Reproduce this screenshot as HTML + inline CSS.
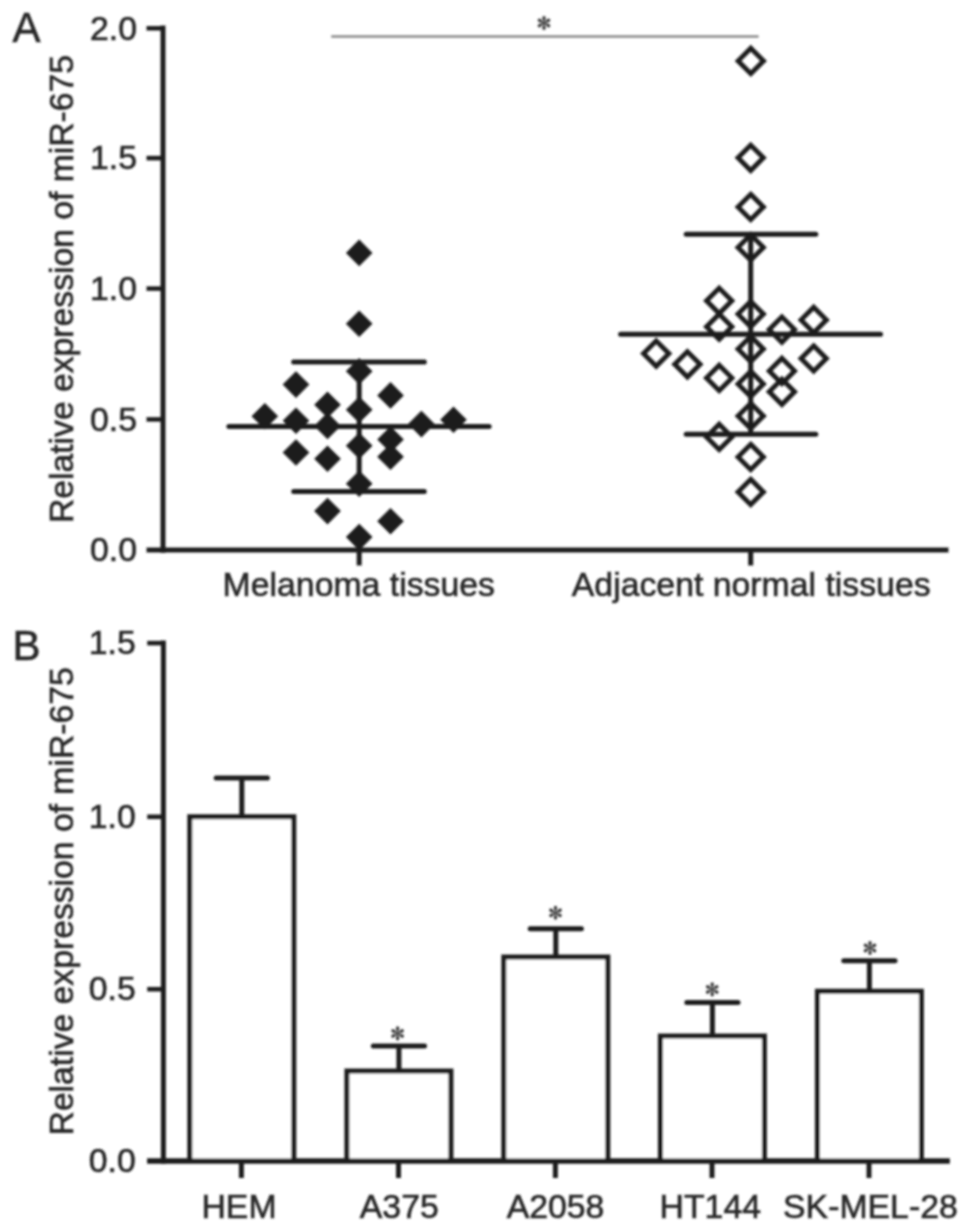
<!DOCTYPE html>
<html><head><meta charset="utf-8"><title>Figure</title>
<style>html,body{margin:0;padding:0;background:#fff;}svg{display:block;}text{font-family:"Liberation Sans",sans-serif;fill:#262626;stroke:#262626;stroke-width:0.6px;}.s{font-family:"Liberation Serif",serif;fill:#3a3a3a;}</style>
</head><body>
<svg width="969" height="1231" viewBox="0 0 969 1231">
<rect x="0" y="0" width="969" height="1231" fill="#ffffff"/>
<defs><filter id="soft" x="0" y="0" width="969" height="1231" filterUnits="userSpaceOnUse"><feGaussianBlur stdDeviation="0.95"/></filter></defs>
<g filter="url(#soft)">
<text x="12.5" y="42.2" font-size="42">A</text>
<line x1="163.0" y1="25.6" x2="163.0" y2="552.7" stroke="#1e1e1e" stroke-width="5.0" stroke-linecap="butt"/>
<line x1="146.5" y1="550.0" x2="948.5" y2="550.0" stroke="#1e1e1e" stroke-width="5.0" stroke-linecap="butt"/>
<line x1="146.5" y1="28.3" x2="163.0" y2="28.3" stroke="#1e1e1e" stroke-width="4.5" stroke-linecap="butt"/>
<line x1="146.5" y1="158.1" x2="163.0" y2="158.1" stroke="#1e1e1e" stroke-width="4.5" stroke-linecap="butt"/>
<line x1="146.5" y1="288.6" x2="163.0" y2="288.6" stroke="#1e1e1e" stroke-width="4.5" stroke-linecap="butt"/>
<line x1="146.5" y1="419.4" x2="163.0" y2="419.4" stroke="#1e1e1e" stroke-width="4.5" stroke-linecap="butt"/>
<text x="137.0" y="39.5" font-size="33.8" text-anchor="end">2.0</text>
<text x="137.0" y="169.3" font-size="33.8" text-anchor="end">1.5</text>
<text x="137.0" y="299.8" font-size="33.8" text-anchor="end">1.0</text>
<text x="137.0" y="430.6" font-size="33.8" text-anchor="end">0.5</text>
<text x="137.0" y="561.2" font-size="33.8" text-anchor="end">0.0</text>
<line x1="359.2" y1="550.0" x2="359.2" y2="565.5" stroke="#1e1e1e" stroke-width="5.0" stroke-linecap="butt"/>
<line x1="750.7" y1="550.0" x2="750.7" y2="565.5" stroke="#1e1e1e" stroke-width="5.0" stroke-linecap="butt"/>
<text x="358.8" y="595.5" font-size="33.8" text-anchor="middle">Melanoma tissues</text>
<text x="751.2" y="595.5" font-size="33.8" text-anchor="middle">Adjacent normal tissues</text>
<text transform="translate(73.2 289.0) rotate(-90)" font-size="33.7" text-anchor="middle">Relative expression of miR-675</text>
<line x1="331.2" y1="36.5" x2="758.6" y2="36.5" stroke="#8a8a8a" stroke-width="2.6" stroke-linecap="butt"/>
<g transform="translate(544.0 23.0) scale(1.00)" fill="#3c3c3c">
<path transform="rotate(0)" d="M0,0.3 C-0.5,-1.8 -1.75,-4.0 -1.75,-5.3 A1.75,1.75 0 0 1 1.75,-5.3 C1.75,-4.0 0.5,-1.8 0,0.3 Z"/>
<path transform="rotate(60)" d="M0,0.3 C-0.5,-1.8 -1.75,-4.0 -1.75,-5.3 A1.75,1.75 0 0 1 1.75,-5.3 C1.75,-4.0 0.5,-1.8 0,0.3 Z"/>
<path transform="rotate(120)" d="M0,0.3 C-0.5,-1.8 -1.75,-4.0 -1.75,-5.3 A1.75,1.75 0 0 1 1.75,-5.3 C1.75,-4.0 0.5,-1.8 0,0.3 Z"/>
<path transform="rotate(180)" d="M0,0.3 C-0.5,-1.8 -1.75,-4.0 -1.75,-5.3 A1.75,1.75 0 0 1 1.75,-5.3 C1.75,-4.0 0.5,-1.8 0,0.3 Z"/>
<path transform="rotate(240)" d="M0,0.3 C-0.5,-1.8 -1.75,-4.0 -1.75,-5.3 A1.75,1.75 0 0 1 1.75,-5.3 C1.75,-4.0 0.5,-1.8 0,0.3 Z"/>
<path transform="rotate(300)" d="M0,0.3 C-0.5,-1.8 -1.75,-4.0 -1.75,-5.3 A1.75,1.75 0 0 1 1.75,-5.3 C1.75,-4.0 0.5,-1.8 0,0.3 Z"/>
<circle r="1.3"/></g>
<polygon points="359.2,239.6 372.5,252.9 359.2,266.2 345.9,252.9" fill="#1e1e1e"/>
<polygon points="359.2,310.4 372.5,323.7 359.2,337.0 345.9,323.7" fill="#1e1e1e"/>
<polygon points="359.2,357.9 372.5,371.2 359.2,384.5 345.9,371.2" fill="#1e1e1e"/>
<polygon points="296.0,371.3 309.3,384.6 296.0,397.9 282.7,384.6" fill="#1e1e1e"/>
<polygon points="390.5,382.1 403.8,395.4 390.5,408.7 377.2,395.4" fill="#1e1e1e"/>
<polygon points="327.5,391.5 340.8,404.8 327.5,418.1 314.2,404.8" fill="#1e1e1e"/>
<polygon points="359.2,396.4 372.5,409.7 359.2,423.0 345.9,409.7" fill="#1e1e1e"/>
<polygon points="264.8,403.0 278.1,416.3 264.8,429.6 251.5,416.3" fill="#1e1e1e"/>
<polygon points="296.0,407.4 309.3,420.7 296.0,434.0 282.7,420.7" fill="#1e1e1e"/>
<polygon points="327.5,412.6 340.8,425.9 327.5,439.2 314.2,425.9" fill="#1e1e1e"/>
<polygon points="421.4,410.8 434.7,424.1 421.4,437.4 408.1,424.1" fill="#1e1e1e"/>
<polygon points="453.5,406.5 466.8,419.8 453.5,433.1 440.2,419.8" fill="#1e1e1e"/>
<polygon points="390.5,426.2 403.8,439.5 390.5,452.8 377.2,439.5" fill="#1e1e1e"/>
<polygon points="359.2,432.5 372.5,445.8 359.2,459.1 345.9,445.8" fill="#1e1e1e"/>
<polygon points="296.0,439.2 309.3,452.5 296.0,465.8 282.7,452.5" fill="#1e1e1e"/>
<polygon points="327.5,445.5 340.8,458.8 327.5,472.1 314.2,458.8" fill="#1e1e1e"/>
<polygon points="390.5,443.5 403.8,456.8 390.5,470.1 377.2,456.8" fill="#1e1e1e"/>
<polygon points="359.2,470.4 372.5,483.7 359.2,497.0 345.9,483.7" fill="#1e1e1e"/>
<polygon points="327.5,497.8 340.8,511.1 327.5,524.4 314.2,511.1" fill="#1e1e1e"/>
<polygon points="390.5,507.9 403.8,521.2 390.5,534.5 377.2,521.2" fill="#1e1e1e"/>
<polygon points="359.2,523.8 372.5,537.1 359.2,550.4 345.9,537.1" fill="#1e1e1e"/>
<line x1="228.9" y1="426.5" x2="489.1" y2="426.5" stroke="#1e1e1e" stroke-width="5.0" stroke-linecap="round"/>
<line x1="293.7" y1="362.0" x2="424.3" y2="362.0" stroke="#1e1e1e" stroke-width="5.0" stroke-linecap="round"/>
<line x1="293.7" y1="491.5" x2="424.3" y2="491.5" stroke="#1e1e1e" stroke-width="5.0" stroke-linecap="round"/>
<line x1="359.2" y1="362.0" x2="359.2" y2="491.5" stroke="#1e1e1e" stroke-width="5.0" stroke-linecap="butt"/>
<polygon points="750.8,48.2 763.5,60.9 750.8,73.6 738.1,60.9" fill="none" stroke="#1e1e1e" stroke-width="4.8" stroke-linejoin="miter"/>
<polygon points="750.7,145.1 763.4,157.8 750.7,170.5 738.0,157.8" fill="none" stroke="#1e1e1e" stroke-width="4.8" stroke-linejoin="miter"/>
<polygon points="750.7,194.3 763.4,207.0 750.7,219.7 738.0,207.0" fill="none" stroke="#1e1e1e" stroke-width="4.8" stroke-linejoin="miter"/>
<polygon points="750.7,234.7 763.4,247.4 750.7,260.1 738.0,247.4" fill="none" stroke="#1e1e1e" stroke-width="4.8" stroke-linejoin="miter"/>
<polygon points="719.2,288.1 731.9,300.8 719.2,313.5 706.5,300.8" fill="none" stroke="#1e1e1e" stroke-width="4.8" stroke-linejoin="miter"/>
<polygon points="750.7,301.4 763.4,314.1 750.7,326.8 738.0,314.1" fill="none" stroke="#1e1e1e" stroke-width="4.8" stroke-linejoin="miter"/>
<polygon points="813.7,307.2 826.4,319.9 813.7,332.6 801.0,319.9" fill="none" stroke="#1e1e1e" stroke-width="4.8" stroke-linejoin="miter"/>
<polygon points="719.2,314.0 731.9,326.7 719.2,339.4 706.5,326.7" fill="none" stroke="#1e1e1e" stroke-width="4.8" stroke-linejoin="miter"/>
<polygon points="781.9,316.9 794.6,329.6 781.9,342.3 769.2,329.6" fill="none" stroke="#1e1e1e" stroke-width="4.8" stroke-linejoin="miter"/>
<polygon points="750.7,336.3 763.4,349.0 750.7,361.7 738.0,349.0" fill="none" stroke="#1e1e1e" stroke-width="4.8" stroke-linejoin="miter"/>
<polygon points="656.2,340.9 668.9,353.6 656.2,366.3 643.5,353.6" fill="none" stroke="#1e1e1e" stroke-width="4.8" stroke-linejoin="miter"/>
<polygon points="813.7,345.8 826.4,358.5 813.7,371.2 801.0,358.5" fill="none" stroke="#1e1e1e" stroke-width="4.8" stroke-linejoin="miter"/>
<polygon points="687.4,351.6 700.1,364.3 687.4,377.0 674.7,364.3" fill="none" stroke="#1e1e1e" stroke-width="4.8" stroke-linejoin="miter"/>
<polygon points="781.9,358.2 794.6,370.9 781.9,383.6 769.2,370.9" fill="none" stroke="#1e1e1e" stroke-width="4.8" stroke-linejoin="miter"/>
<polygon points="719.2,365.2 731.9,377.9 719.2,390.6 706.5,377.9" fill="none" stroke="#1e1e1e" stroke-width="4.8" stroke-linejoin="miter"/>
<polygon points="750.7,371.3 763.4,384.0 750.7,396.7 738.0,384.0" fill="none" stroke="#1e1e1e" stroke-width="4.8" stroke-linejoin="miter"/>
<polygon points="781.9,379.1 794.6,391.8 781.9,404.5 769.2,391.8" fill="none" stroke="#1e1e1e" stroke-width="4.8" stroke-linejoin="miter"/>
<polygon points="750.7,403.3 763.4,416.0 750.7,428.7 738.0,416.0" fill="none" stroke="#1e1e1e" stroke-width="4.8" stroke-linejoin="miter"/>
<polygon points="719.2,424.2 731.9,436.9 719.2,449.6 706.5,436.9" fill="none" stroke="#1e1e1e" stroke-width="4.8" stroke-linejoin="miter"/>
<polygon points="750.7,444.3 763.4,457.0 750.7,469.7 738.0,457.0" fill="none" stroke="#1e1e1e" stroke-width="4.8" stroke-linejoin="miter"/>
<polygon points="750.7,479.3 763.4,492.0 750.7,504.7 738.0,492.0" fill="none" stroke="#1e1e1e" stroke-width="4.8" stroke-linejoin="miter"/>
<line x1="620.6" y1="334.2" x2="880.5" y2="334.2" stroke="#1e1e1e" stroke-width="5.0" stroke-linecap="round"/>
<line x1="686.2" y1="234.3" x2="815.8" y2="234.3" stroke="#1e1e1e" stroke-width="5.0" stroke-linecap="round"/>
<line x1="686.2" y1="434.3" x2="815.8" y2="434.3" stroke="#1e1e1e" stroke-width="5.0" stroke-linecap="round"/>
<line x1="750.7" y1="234.3" x2="750.7" y2="434.3" stroke="#1e1e1e" stroke-width="5.0" stroke-linecap="butt"/>
<text x="12.5" y="659.6" font-size="42">B</text>
<line x1="163.4" y1="640.4" x2="163.4" y2="1163.7" stroke="#1e1e1e" stroke-width="5.0" stroke-linecap="butt"/>
<line x1="147.2" y1="1161.0" x2="949.7" y2="1161.0" stroke="#1e1e1e" stroke-width="5.0" stroke-linecap="butt"/>
<line x1="147.2" y1="643.1" x2="163.4" y2="643.1" stroke="#1e1e1e" stroke-width="4.5" stroke-linecap="butt"/>
<line x1="147.2" y1="816.8" x2="163.4" y2="816.8" stroke="#1e1e1e" stroke-width="4.5" stroke-linecap="butt"/>
<line x1="147.2" y1="989.2" x2="163.4" y2="989.2" stroke="#1e1e1e" stroke-width="4.5" stroke-linecap="butt"/>
<text x="135.8" y="654.3" font-size="33.8" text-anchor="end">1.5</text>
<text x="135.8" y="828.0" font-size="33.8" text-anchor="end">1.0</text>
<text x="135.8" y="1000.4" font-size="33.8" text-anchor="end">0.5</text>
<text x="135.8" y="1172.2" font-size="33.8" text-anchor="end">0.0</text>
<text transform="translate(73.4 901.4) rotate(-90)" font-size="33.7" text-anchor="middle">Relative expression of miR-675</text>
<path d="M189.8,1161 L189.8,816.8 L293.8,816.8 L293.8,1161" fill="#fff" stroke="#1e1e1e" stroke-width="5.0" stroke-linejoin="miter"/>
<line x1="241.8" y1="816.8" x2="241.8" y2="778.0" stroke="#1e1e1e" stroke-width="5.0" stroke-linecap="butt"/>
<line x1="216.2" y1="778.0" x2="267.4" y2="778.0" stroke="#1e1e1e" stroke-width="5.0" stroke-linecap="round"/>
<line x1="241.4" y1="1161.0" x2="241.4" y2="1178.0" stroke="#1e1e1e" stroke-width="5.0" stroke-linecap="butt"/>
<text x="239.0" y="1218" font-size="33.8" text-anchor="middle">HEM</text>
<path d="M346.9,1161 L346.9,1070.9 L450.9,1070.9 L450.9,1161" fill="#fff" stroke="#1e1e1e" stroke-width="5.0" stroke-linejoin="miter"/>
<line x1="398.9" y1="1070.9" x2="398.9" y2="1046.1" stroke="#1e1e1e" stroke-width="5.0" stroke-linecap="butt"/>
<line x1="373.3" y1="1046.1" x2="424.5" y2="1046.1" stroke="#1e1e1e" stroke-width="5.0" stroke-linecap="round"/>
<line x1="398.5" y1="1161.0" x2="398.5" y2="1178.0" stroke="#1e1e1e" stroke-width="5.0" stroke-linecap="butt"/>
<text x="399.3" y="1218" font-size="33.8" text-anchor="middle">A375</text>
<g transform="translate(397.6 1033.4) scale(1.00)" fill="#3c3c3c">
<path transform="rotate(0)" d="M0,0.3 C-0.5,-1.8 -1.75,-4.0 -1.75,-5.3 A1.75,1.75 0 0 1 1.75,-5.3 C1.75,-4.0 0.5,-1.8 0,0.3 Z"/>
<path transform="rotate(60)" d="M0,0.3 C-0.5,-1.8 -1.75,-4.0 -1.75,-5.3 A1.75,1.75 0 0 1 1.75,-5.3 C1.75,-4.0 0.5,-1.8 0,0.3 Z"/>
<path transform="rotate(120)" d="M0,0.3 C-0.5,-1.8 -1.75,-4.0 -1.75,-5.3 A1.75,1.75 0 0 1 1.75,-5.3 C1.75,-4.0 0.5,-1.8 0,0.3 Z"/>
<path transform="rotate(180)" d="M0,0.3 C-0.5,-1.8 -1.75,-4.0 -1.75,-5.3 A1.75,1.75 0 0 1 1.75,-5.3 C1.75,-4.0 0.5,-1.8 0,0.3 Z"/>
<path transform="rotate(240)" d="M0,0.3 C-0.5,-1.8 -1.75,-4.0 -1.75,-5.3 A1.75,1.75 0 0 1 1.75,-5.3 C1.75,-4.0 0.5,-1.8 0,0.3 Z"/>
<path transform="rotate(300)" d="M0,0.3 C-0.5,-1.8 -1.75,-4.0 -1.75,-5.3 A1.75,1.75 0 0 1 1.75,-5.3 C1.75,-4.0 0.5,-1.8 0,0.3 Z"/>
<circle r="1.3"/></g>
<path d="M503.8,1161 L503.8,956.9 L607.8,956.9 L607.8,1161" fill="#fff" stroke="#1e1e1e" stroke-width="5.0" stroke-linejoin="miter"/>
<line x1="555.8" y1="956.9" x2="555.8" y2="928.7" stroke="#1e1e1e" stroke-width="5.0" stroke-linecap="butt"/>
<line x1="530.2" y1="928.7" x2="581.4" y2="928.7" stroke="#1e1e1e" stroke-width="5.0" stroke-linecap="round"/>
<line x1="555.4" y1="1161.0" x2="555.4" y2="1178.0" stroke="#1e1e1e" stroke-width="5.0" stroke-linecap="butt"/>
<text x="555.5" y="1218" font-size="33.8" text-anchor="middle">A2058</text>
<g transform="translate(555.5 912.8) scale(1.00)" fill="#3c3c3c">
<path transform="rotate(0)" d="M0,0.3 C-0.5,-1.8 -1.75,-4.0 -1.75,-5.3 A1.75,1.75 0 0 1 1.75,-5.3 C1.75,-4.0 0.5,-1.8 0,0.3 Z"/>
<path transform="rotate(60)" d="M0,0.3 C-0.5,-1.8 -1.75,-4.0 -1.75,-5.3 A1.75,1.75 0 0 1 1.75,-5.3 C1.75,-4.0 0.5,-1.8 0,0.3 Z"/>
<path transform="rotate(120)" d="M0,0.3 C-0.5,-1.8 -1.75,-4.0 -1.75,-5.3 A1.75,1.75 0 0 1 1.75,-5.3 C1.75,-4.0 0.5,-1.8 0,0.3 Z"/>
<path transform="rotate(180)" d="M0,0.3 C-0.5,-1.8 -1.75,-4.0 -1.75,-5.3 A1.75,1.75 0 0 1 1.75,-5.3 C1.75,-4.0 0.5,-1.8 0,0.3 Z"/>
<path transform="rotate(240)" d="M0,0.3 C-0.5,-1.8 -1.75,-4.0 -1.75,-5.3 A1.75,1.75 0 0 1 1.75,-5.3 C1.75,-4.0 0.5,-1.8 0,0.3 Z"/>
<path transform="rotate(300)" d="M0,0.3 C-0.5,-1.8 -1.75,-4.0 -1.75,-5.3 A1.75,1.75 0 0 1 1.75,-5.3 C1.75,-4.0 0.5,-1.8 0,0.3 Z"/>
<circle r="1.3"/></g>
<path d="M660.4,1161 L660.4,1036.0 L764.4,1036.0 L764.4,1161" fill="#fff" stroke="#1e1e1e" stroke-width="5.0" stroke-linejoin="miter"/>
<line x1="712.4" y1="1036.0" x2="712.4" y2="1002.6" stroke="#1e1e1e" stroke-width="5.0" stroke-linecap="butt"/>
<line x1="686.8" y1="1002.6" x2="738.0" y2="1002.6" stroke="#1e1e1e" stroke-width="5.0" stroke-linecap="round"/>
<line x1="712.0" y1="1161.0" x2="712.0" y2="1178.0" stroke="#1e1e1e" stroke-width="5.0" stroke-linecap="butt"/>
<text x="710.3" y="1218" font-size="33.8" text-anchor="middle">HT144</text>
<g transform="translate(712.2 989.4) scale(1.00)" fill="#3c3c3c">
<path transform="rotate(0)" d="M0,0.3 C-0.5,-1.8 -1.75,-4.0 -1.75,-5.3 A1.75,1.75 0 0 1 1.75,-5.3 C1.75,-4.0 0.5,-1.8 0,0.3 Z"/>
<path transform="rotate(60)" d="M0,0.3 C-0.5,-1.8 -1.75,-4.0 -1.75,-5.3 A1.75,1.75 0 0 1 1.75,-5.3 C1.75,-4.0 0.5,-1.8 0,0.3 Z"/>
<path transform="rotate(120)" d="M0,0.3 C-0.5,-1.8 -1.75,-4.0 -1.75,-5.3 A1.75,1.75 0 0 1 1.75,-5.3 C1.75,-4.0 0.5,-1.8 0,0.3 Z"/>
<path transform="rotate(180)" d="M0,0.3 C-0.5,-1.8 -1.75,-4.0 -1.75,-5.3 A1.75,1.75 0 0 1 1.75,-5.3 C1.75,-4.0 0.5,-1.8 0,0.3 Z"/>
<path transform="rotate(240)" d="M0,0.3 C-0.5,-1.8 -1.75,-4.0 -1.75,-5.3 A1.75,1.75 0 0 1 1.75,-5.3 C1.75,-4.0 0.5,-1.8 0,0.3 Z"/>
<path transform="rotate(300)" d="M0,0.3 C-0.5,-1.8 -1.75,-4.0 -1.75,-5.3 A1.75,1.75 0 0 1 1.75,-5.3 C1.75,-4.0 0.5,-1.8 0,0.3 Z"/>
<circle r="1.3"/></g>
<path d="M817.4,1161 L817.4,991.2 L921.4,991.2 L921.4,1161" fill="#fff" stroke="#1e1e1e" stroke-width="5.0" stroke-linejoin="miter"/>
<line x1="869.4" y1="991.2" x2="869.4" y2="960.7" stroke="#1e1e1e" stroke-width="5.0" stroke-linecap="butt"/>
<line x1="843.8" y1="960.7" x2="895.0" y2="960.7" stroke="#1e1e1e" stroke-width="5.0" stroke-linecap="round"/>
<line x1="869.0" y1="1161.0" x2="869.0" y2="1178.0" stroke="#1e1e1e" stroke-width="5.0" stroke-linecap="butt"/>
<text x="870.4" y="1218" font-size="33.8" text-anchor="middle">SK-MEL-28</text>
<g transform="translate(870.0 948.0) scale(1.00)" fill="#3c3c3c">
<path transform="rotate(0)" d="M0,0.3 C-0.5,-1.8 -1.75,-4.0 -1.75,-5.3 A1.75,1.75 0 0 1 1.75,-5.3 C1.75,-4.0 0.5,-1.8 0,0.3 Z"/>
<path transform="rotate(60)" d="M0,0.3 C-0.5,-1.8 -1.75,-4.0 -1.75,-5.3 A1.75,1.75 0 0 1 1.75,-5.3 C1.75,-4.0 0.5,-1.8 0,0.3 Z"/>
<path transform="rotate(120)" d="M0,0.3 C-0.5,-1.8 -1.75,-4.0 -1.75,-5.3 A1.75,1.75 0 0 1 1.75,-5.3 C1.75,-4.0 0.5,-1.8 0,0.3 Z"/>
<path transform="rotate(180)" d="M0,0.3 C-0.5,-1.8 -1.75,-4.0 -1.75,-5.3 A1.75,1.75 0 0 1 1.75,-5.3 C1.75,-4.0 0.5,-1.8 0,0.3 Z"/>
<path transform="rotate(240)" d="M0,0.3 C-0.5,-1.8 -1.75,-4.0 -1.75,-5.3 A1.75,1.75 0 0 1 1.75,-5.3 C1.75,-4.0 0.5,-1.8 0,0.3 Z"/>
<path transform="rotate(300)" d="M0,0.3 C-0.5,-1.8 -1.75,-4.0 -1.75,-5.3 A1.75,1.75 0 0 1 1.75,-5.3 C1.75,-4.0 0.5,-1.8 0,0.3 Z"/>
<circle r="1.3"/></g>
<line x1="147.2" y1="1161.0" x2="949.7" y2="1161.0" stroke="#1e1e1e" stroke-width="5.0" stroke-linecap="butt"/>
</g>
</svg></body></html>
